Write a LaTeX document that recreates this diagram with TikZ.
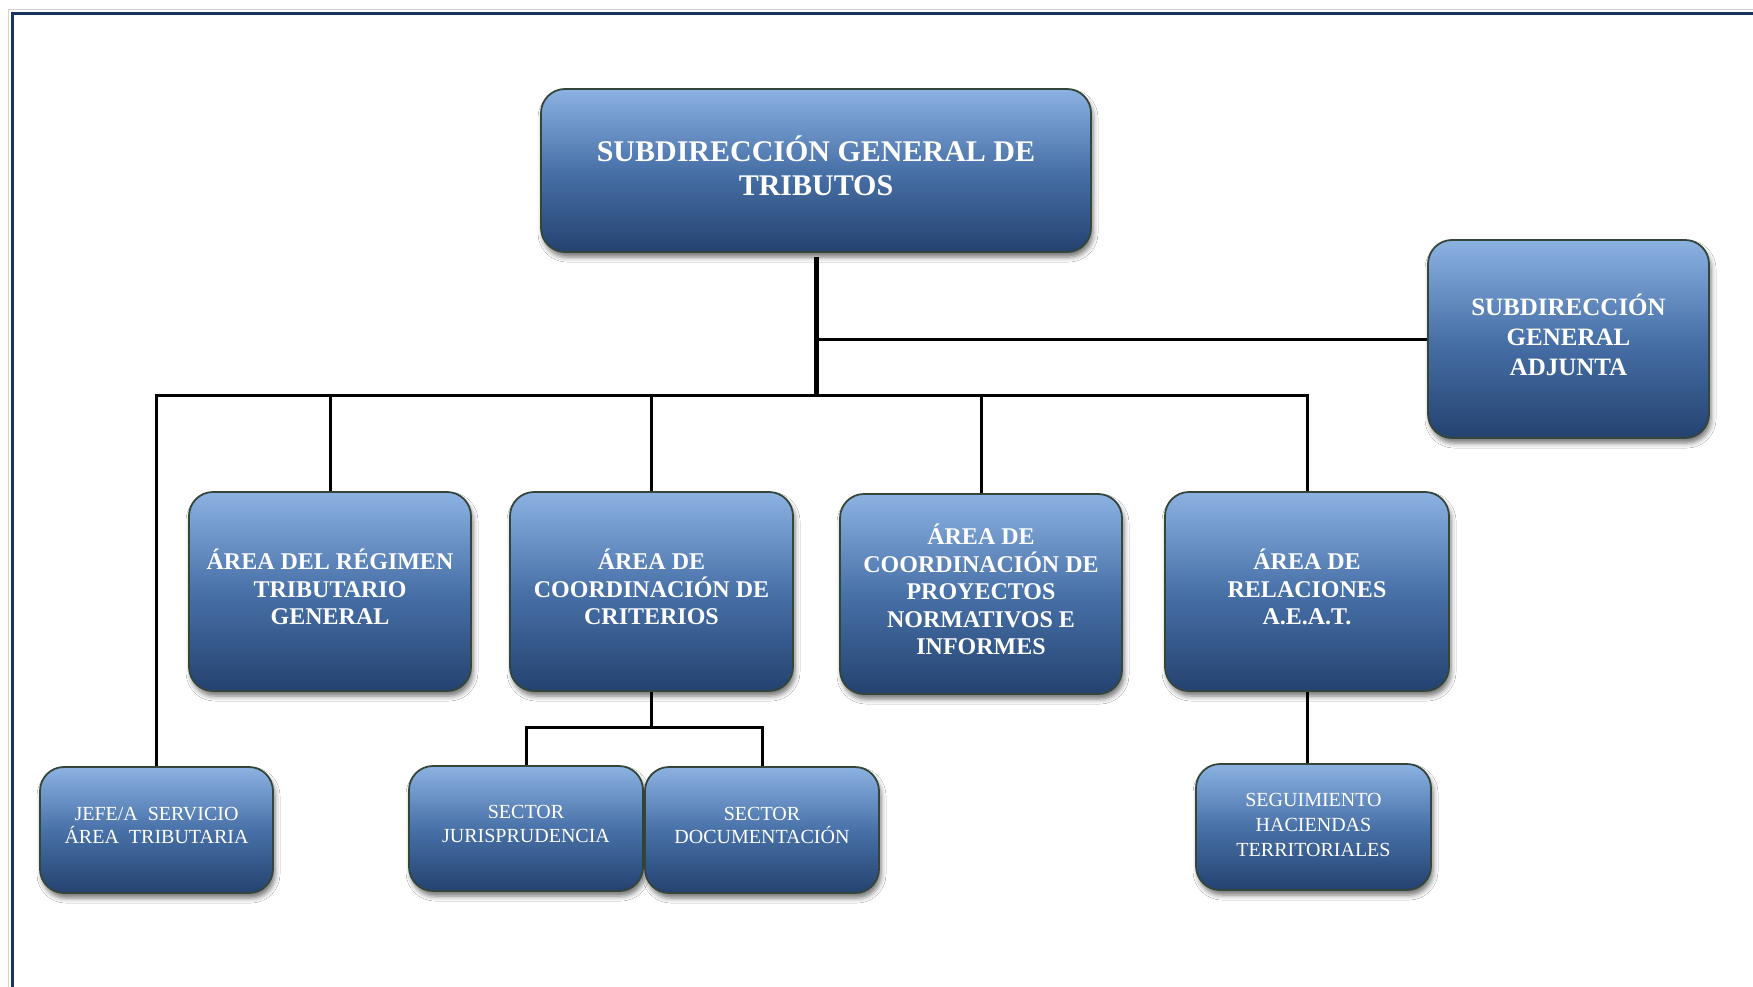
\documentclass[tikz,border=0pt]{standalone}
\usepackage{fontspec}
\setmainfont{Liberation Serif}
\usetikzlibrary{shadows,shadows.blur}
\definecolor{boxtop}{RGB}{140,178,226}
\definecolor{boxmid}{RGB}{72,113,168}
\definecolor{boxbot}{RGB}{36,66,112}
\definecolor{boxline}{RGB}{52,70,58}
\definecolor{frameblue}{RGB}{23,54,93}
\tikzset{
  box/.style={draw=boxline, line width=1.8pt, rounded corners=24pt,
    top color=boxtop, bottom color=boxbot, middle color=boxmid,
    blur shadow={shadow xshift=2pt, shadow yshift=-5pt, shadow blur radius=5pt, shadow opacity=55},
    inner sep=0pt},
  boxtext/.style={align=center, text=white, inner sep=0pt, yshift=4.5pt},
  bigtext/.style={boxtext, font=\fontsize{30}{34.5}\selectfont\bfseries},
  midtext/.style={boxtext, font=\fontsize{24}{27.5}\selectfont\bfseries},
  adjtext/.style={boxtext, font=\fontsize{25}{30}\selectfont\bfseries},
  smalltext/.style={boxtext, font=\fontsize{20}{23.5}\selectfont},
  segtext/.style={boxtext, yshift=-2pt, font=\fontsize{20}{25}\selectfont},
  conn/.style={line width=3pt, black},
  thickconn/.style={line width=5pt, black},
}
\begin{document}
\begin{tikzpicture}[x=1pt,y=-1pt]
\useasboundingbox (0,0) rectangle (1753,987);
\clip (0,0) rectangle (1753,987);
\fill[white] (0,0) rectangle (1753,987);
% frame
\draw[gray!35, line width=1.5pt] (8.5,1100) |- (1800,9.5);
\draw[frameblue, line width=3pt] (12.5,1100) |- (1800,13.5);
% boxes
\node[box, minimum width=550, minimum height=163] (top) at (816,170.5) {};
\node[bigtext] (topt) at (top.center) {SUBDIRECCIÓN GENERAL DE\\TRIBUTOS};
\node[box, minimum width=281, minimum height=198] (adj) at (1568.5,339) {};
\node[adjtext] (adjt) at (adj.center) {SUBDIRECCIÓN\\GENERAL\\ADJUNTA};
\node[box, minimum width=282, minimum height=199] (reg) at (330,591.5) {};
\node[midtext] (regt) at (reg.center) {ÁREA DEL RÉGIMEN\\TRIBUTARIO\\GENERAL};
\node[box, minimum width=283, minimum height=199] (cri) at (651.5,591.5) {};
\node[midtext] (crit) at (cri.center) {ÁREA DE\\COORDINACIÓN DE\\CRITERIOS};
\node[box, minimum width=282, minimum height=200] (pro) at (981,594) {};
\node[midtext] (prot) at (pro.center) {ÁREA DE\\COORDINACIÓN DE\\PROYECTOS\\NORMATIVOS E\\INFORMES};
\node[box, minimum width=284, minimum height=199] (rel) at (1307,591.5) {};
\node[midtext] (relt) at (rel.center) {ÁREA DE\\RELACIONES\\A.E.A.T.};
\node[box, minimum width=233, minimum height=126] (jefe) at (156.5,830) {};
\node[smalltext] (jefet) at (jefe.center) {JEFE/A\ \ SERVICIO\\ÁREA\ \ TRIBUTARIA};
\node[box, minimum width=234, minimum height=125] (jur) at (526,828.5) {};
\node[smalltext] (jurt) at (jur.center) {SECTOR\\JURISPRUDENCIA};
\node[box, minimum width=234, minimum height=126] (doc) at (762,830) {};
\node[smalltext] (doct) at (doc.center) {SECTOR\\DOCUMENTACIÓN};
\node[box, minimum width=235, minimum height=126] (seg) at (1313.5,827) {};
\node[segtext] (segt) at (seg.center) {SEGUIMIENTO\\HACIENDAS\\TERRITORIALES};
% connectors
\coordinate (bar) at (816,395);
\coordinate (cribar) at (651.5,727);
\draw[thickconn] ([yshift=-4pt]top.south) -- (bar);
\draw[conn] (top.south |- adj.west) -- (adj.west);
\draw[conn] (jefe.north) |- (bar) -| (rel.north);
\draw[conn] (reg.north) -- (reg.north |- bar);
\draw[conn] (cri.north) -- (cri.north |- bar);
\draw[conn] (pro.north) -- (pro.north |- bar);
\draw[conn] (cri.south) -- (cribar);
\draw[conn] (jur.north) |- (cribar) -| (doc.north);
\draw[conn] (rel.south) -- (rel.south |- seg.north);
\end{tikzpicture}
\end{document}
